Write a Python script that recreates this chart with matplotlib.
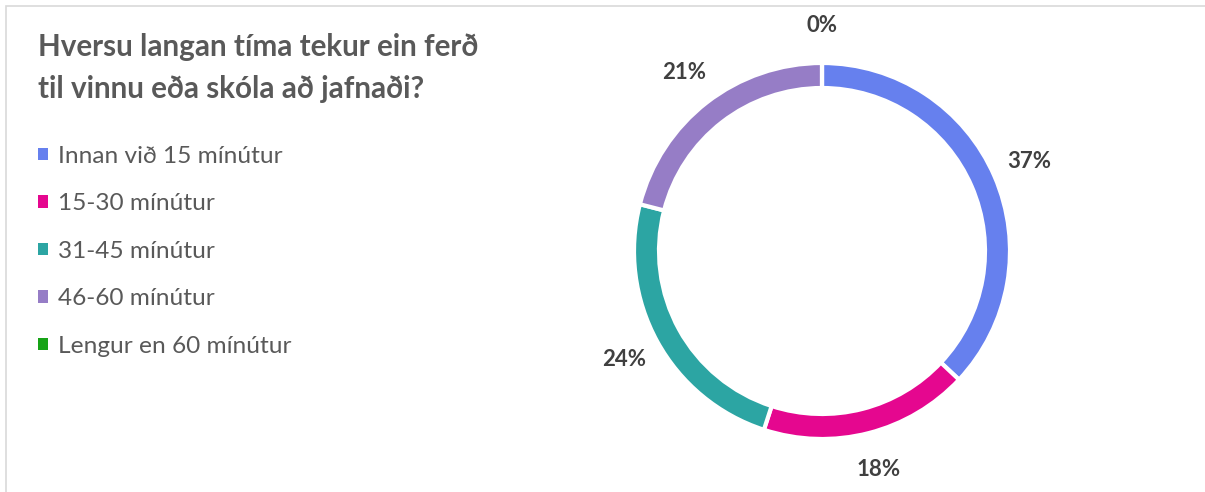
import matplotlib
matplotlib.use("Agg")
from matplotlib import pyplot as plt
from matplotlib.patches import Patch, Rectangle

plt.rcParams['font.family'] = ['Lato', 'DejaVu Sans']

# data
categories = ['Innan við 15 mínútur', '15-30 mínútur', '31-45 mínútur',
              '46-60 mínútur', 'Lengur en 60 mínútur']
shares = [37, 18, 24, 21, 0]
colors = ['#6680ee', '#e5078f', '#2ca5a3', '#967dc6', '#17a317']
title = 'Hversu langan tíma tekur ein ferð\ntil vinnu eða skóla að jafnaði?'

W, H = 1205, 492
fig = plt.figure(figsize=(W / 100, H / 100), dpi=100)

# light frame, cut off at right and bottom like the screenshot
fig.patches.append(Rectangle((6 / W, -0.1), 1.2, (H - 6) / H + 0.1,
                             transform=fig.transFigure, fill=False,
                             edgecolor='#d9d9d9', linewidth=1.2))

# donut axes, 1 data unit = 1 pixel
cx, cy, half = 822, 251, 200
ax = fig.add_axes([(cx - half) / W, (H - cy - half) / H, 2 * half / W, 2 * half / H])

labels = ['%d%%' % v for v in shares]
wedges, texts = ax.pie(shares, colors=colors, startangle=90, counterclock=False,
                       radius=188, labels=labels, labeldistance=1.2,
                       wedgeprops=dict(width=25, edgecolor='white', linewidth=3),
                       textprops=dict(fontsize=16, fontweight='bold', color='#404040'),
                       frame=True)
ax.set_xlim(-half, half)
ax.set_ylim(-half, half)
ax.set_aspect('equal')
ax.axis('off')
for t in texts:
    t.set_ha('center')
    t.set_va('center')

fig.text(38 / W, 1 - 33 / H, title, fontsize=21.3, fontweight='bold',
         color='#595959', ha='left', va='top', linespacing=1.6)

handles = [Patch(facecolor=c, edgecolor='none') for c in colors]
fig.legend(handles, categories, loc='upper left', bbox_to_anchor=(38 / W, 1 - 146 / H),
           frameon=False, fontsize=17.6, handlelength=0.4, handleheight=0.4,
           handletextpad=0.42, labelspacing=1.08, borderpad=0, borderaxespad=0,
           labelcolor='#595959')

plt.savefig('out.png', dpi=100, facecolor='white')
